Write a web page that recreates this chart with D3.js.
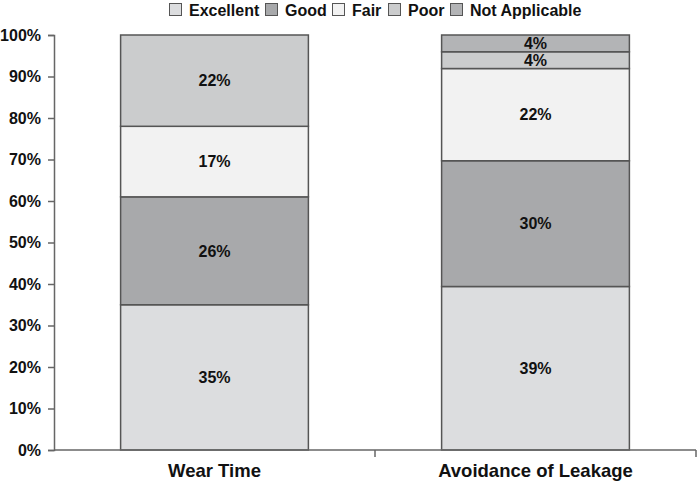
<!DOCTYPE html>
<html><head><meta charset="utf-8">
<script src="https://cdn.jsdelivr.net/npm/d3@7"></script>
<style>body{margin:0;background:#fff}svg{display:block;font-family:"Liberation Sans",Arial,sans-serif}</style>
</head><body><svg id="c" width="697" height="486"></svg>
<script>
const categories = ["Wear Time", "Avoidance of Leakage"];
const seriesNames = ["Excellent", "Good", "Fair", "Poor", "Not Applicable"];
const excellent = [35, 39];
const good = [26, 30];
const fair = [17, 22];
const poor = [22, 4];
const notApplicable = [0, 4];
const yTicks = [0, 0.1, 0.2, 0.3, 0.4, 0.5, 0.6, 0.7, 0.8, 0.9, 1.0];
const colors = ["#dcdddf", "#a8a9ab", "#f2f2f2", "#cbcccd", "#b3b4b6"];

const seriesVals = [excellent, good, fair, poor, notApplicable];
const rows = categories.map((c, i) => {
  const r = {cat: c};
  seriesNames.forEach((s, j) => r[s] = seriesVals[j][i]);
  return r;
});

const svg = d3.select("#c");
const m = {left: 54, right: 696, top: 35, bottom: 450};
const x = d3.scaleBand().domain(categories).range([m.left, m.right]).paddingInner(0.415).paddingOuter(0.2075);
const y = d3.scaleLinear().domain([0, 1]).range([m.bottom, m.top]);

const stack = d3.stack().keys(seriesNames).offset(d3.stackOffsetExpand);
const layers = stack(rows);

const g = svg.append("g");
layers.forEach((layer, li) => {
  layer.forEach((d, i) => {
    const v = seriesVals[li][i];
    if (!v) return;
    const y0 = y(d[0]), y1 = y(d[1]);
    g.append("rect")
      .attr("x", x(rows[i].cat)).attr("width", x.bandwidth())
      .attr("y", y1).attr("height", y0 - y1)
      .attr("fill", colors[li]).attr("stroke", "#555").attr("stroke-width", 1.5);
  });
});
layers.forEach((layer, li) => {
  layer.forEach((d, i) => {
    const v = seriesVals[li][i];
    if (!v) return;
    g.append("text")
      .attr("x", x(rows[i].cat) + x.bandwidth() / 2)
      .attr("y", (y(d[0]) + y(d[1])) / 2)
      .attr("dy", "0.36em")
      .attr("text-anchor", "middle")
      .attr("font-size", 16).attr("font-weight", "bold").attr("fill", "#111")
      .text(v + "%");
  });
});

// Y axis
const ya = svg.append("g").attr("transform", `translate(${m.left},0)`)
  .call(d3.axisLeft(y).tickValues(yTicks).tickFormat(d3.format(".0%")).tickSize(6).tickPadding(7));
ya.select(".domain").attr("stroke", "#666").attr("stroke-width", 1.5);
ya.selectAll(".tick line").attr("stroke", "#666").attr("stroke-width", 1.5);
ya.selectAll(".tick text").attr("font-size", 16).attr("font-weight", "bold").attr("fill", "#111")
  .attr("font-family", "Liberation Sans, Arial, sans-serif");

// X axis
const xa = svg.append("g").attr("transform", `translate(0,${m.bottom})`);
xa.append("line").attr("x1", m.left).attr("x2", m.right).attr("stroke", "#666").attr("stroke-width", 1.5);
const bounds = [m.left + (m.right - m.left) / 2, m.right];
bounds.forEach(bx => xa.append("line").attr("x1", bx).attr("x2", bx).attr("y1", 0).attr("y2", 7).attr("stroke", "#666").attr("stroke-width", 1.5));
categories.forEach(c => {
  xa.append("text").attr("x", x(c) + x.bandwidth() / 2).attr("y", 27)
    .attr("text-anchor", "middle").attr("font-size", 18.5).attr("font-weight", "bold").attr("fill", "#111")
    .text(c);
});

// Legend
const legendX = [169, 265, 332, 388, 450];
const lg = svg.append("g");
seriesNames.forEach((s, i) => {
  lg.append("rect").attr("x", legendX[i] + 0.5).attr("y", 3.5).attr("width", 12).attr("height", 12)
    .attr("fill", colors[i]).attr("stroke", "#555").attr("stroke-width", 1);
  lg.append("text").attr("x", legendX[i] + 20).attr("y", 15.5)
    .attr("font-size", 16).attr("font-weight", "bold").attr("fill", "#111").text(s);
});
</script></body></html>
